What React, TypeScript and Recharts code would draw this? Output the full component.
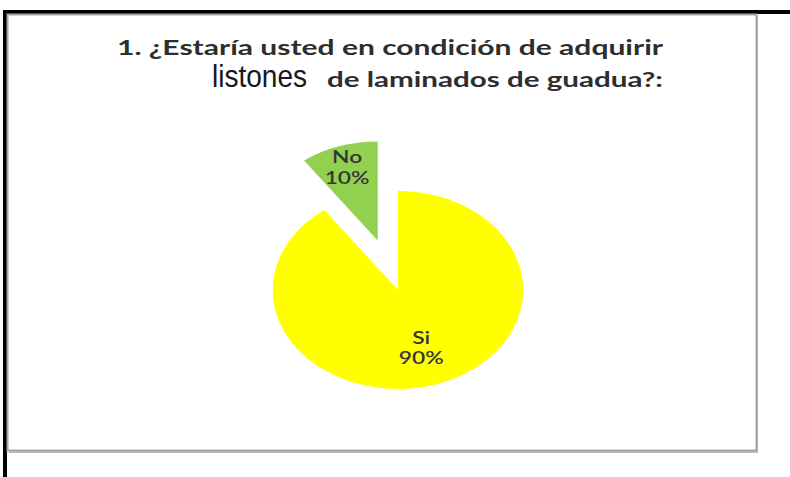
import React from 'react';
import { PieChart, Pie, Cell } from 'recharts';

const categories = ['Si', 'No'];
const values = [90, 10];
const percentLabels = ['90%', '10%'];
const colors = ['#FFFF00', '#92D050'];

const titleLine1 = '1. ¿Estaría usted en condición de adquirir';
const titleWord = 'listones';
const titleLine2 = 'de laminados de guadua?:';

const data = categories.map((name, i) => ({ name, value: values[i], pct: percentLabels[i] }));

const SX = 1.265; // horizontal stretch of the original picture
const EXPLODE: Record<string, number> = { No: 52 };
const LABEL_FRAC: Record<string, number> = { Si: 0.6, No: 0.79 };

const RAD = Math.PI / 180;

function EllipseSector(props: any) {
  const { cx, cy, outerRadius, startAngle, endAngle, midAngle, fill, name } = props;
  const off = EXPLODE[name] || 0;
  const ox = cx + off * SX * Math.cos(midAngle * RAD);
  const oy = cy - off * Math.sin(midAngle * RAD);
  const r = outerRadius;
  const p1x = ox + r * SX * Math.cos(startAngle * RAD);
  const p1y = oy - r * Math.sin(startAngle * RAD);
  const p2x = ox + r * SX * Math.cos(endAngle * RAD);
  const p2y = oy - r * Math.sin(endAngle * RAD);
  const large = Math.abs(endAngle - startAngle) > 180 ? 1 : 0;
  const sweep = startAngle > endAngle ? 1 : 0;
  const d = `M${ox},${oy} L${p1x},${p1y} A${r * SX},${r} 0 ${large} ${sweep} ${p2x},${p2y} Z`;
  return <path d={d} fill={fill} stroke="none" />;
}

function renderLabel(props: any) {
  const { cx, cy, outerRadius, midAngle, name, payload } = props;
  const off = EXPLODE[name] || 0;
  const ox = cx + off * SX * Math.cos(midAngle * RAD);
  const oy = cy - off * Math.sin(midAngle * RAD);
  const f = LABEL_FRAC[name] || 0.6;
  const lx = ox + f * outerRadius * SX * Math.cos(midAngle * RAD);
  const ly = oy - f * outerRadius * Math.sin(midAngle * RAD);
  const pct = (payload && payload.pct) || props.pct;
  return (
    <g transform={`translate(${lx},${ly}) scale(${SX},1)`}>
      <text
        x={0}
        y={0}
        textAnchor="middle"
        fontFamily="Lato, 'Open Sans', sans-serif"
        fontWeight={600}
        fontSize={18}
        fill="#363636"
      >
        <tspan x={0} y={-3}>{name}</tspan>
        <tspan x={0} y={18}>{pct}</tspan>
      </text>
    </g>
  );
}

export default function App() {
  return (
    <div style={{ position: 'absolute', left: 0, top: 0, width: 790, height: 477, background: '#fff' }}>
      <svg width={790} height={477} style={{ position: 'absolute', left: 0, top: 0 }}>
        <rect x={5} y={10} width={785} height={4} fill="#000" />
        <rect x={3} y={10} width={4} height={467} fill="#000" />
        <rect x={9} y={16} width={749} height={437} fill="#bdbdbd" />
        <rect x={7.5} y={14.5} width={749} height={436} fill="#fff" stroke="#a6a6a6" strokeWidth={2} />
        <text
          x={117}
          y={55}
          fontFamily="Lato, 'Open Sans', sans-serif"
          fontWeight="bold"
          fontSize={21}
          fill="#2e2e2e"
          textLength={546}
          lengthAdjust="spacingAndGlyphs"
        >
          {titleLine1}
        </text>
        <text
          x={212}
          y={87}
          fontFamily="'Liberation Sans', Arial, sans-serif"
          fontSize={32}
          fill="#161628"
          textLength={95}
          lengthAdjust="spacingAndGlyphs"
        >
          {titleWord}
        </text>
        <text
          x={327}
          y={87}
          fontFamily="Lato, 'Open Sans', sans-serif"
          fontWeight="bold"
          fontSize={21}
          fill="#2e2e2e"
          textLength={336}
          lengthAdjust="spacingAndGlyphs"
        >
          {titleLine2}
        </text>
      </svg>
      <div style={{ position: 'absolute', left: 0, top: 0 }}>
        <PieChart width={790} height={477} margin={{ top: 0, right: 0, bottom: 0, left: 0 }}>
          <Pie
            data={data}
            dataKey="value"
            nameKey="name"
            cx={398}
            cy={290}
            outerRadius={99}
            startAngle={90}
            endAngle={-270}
            stroke="none"
            shape={EllipseSector}
            label={renderLabel}
            labelLine={false}
            isAnimationActive={false}
          >
            {data.map((d, i) => (
              <Cell key={d.name} fill={colors[i]} />
            ))}
          </Pie>
        </PieChart>
      </div>
    </div>
  );
}
